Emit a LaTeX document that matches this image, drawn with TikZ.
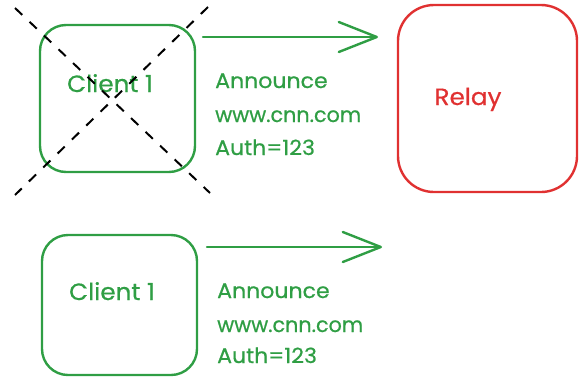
\documentclass[tikz,border=0pt]{standalone}
\usepackage{fontspec}
\setmainfont{Poppins}[FakeStretch=1.05, FakeBold=0.6]
\usetikzlibrary{arrows.meta}
\definecolor{exgreen}{HTML}{2F9E44}
\definecolor{exred}{HTML}{E03131}
\tikzset{
  box/.style={draw, line width=2.4pt, rounded corners=26pt, inner sep=0pt},
  lbl/.style={anchor=base west, inner sep=0pt, text=exgreen, font=\fontsize{21}{24}\selectfont},
  btxt/.style={anchor=base, inner sep=0pt, font=\fontsize{23.5}{26}\selectfont},
  conn/.style={draw=exgreen, line width=2.4pt, line cap=round, -{Straight Barb[length=38pt,width=30pt,round]}},
  cross/.style={draw=black, line width=2pt, dash pattern=on 10pt off 10pt}
}
\begin{document}
\begin{tikzpicture}[x=1pt,y=-1pt]
\useasboundingbox (0,0) rectangle (580,381);
% top client
\node[box, draw=exgreen, minimum width=155pt, minimum height=147pt] (c1) at (117.5,98.5) {};
\node[btxt, text=exgreen] (c1t) at (110,92) {Client 1};
% relay
\node[box, draw=exred, rounded corners=36pt, minimum width=179pt, minimum height=187pt] (relay) at (487.5,98.5) {};
\node[btxt, text=exred] (relayt) at (468,105) {Relay};
% top arrow
\coordinate (a1s) at (203,37);
\coordinate (a1e) at (378,37);
\draw[conn] (a1s) -- (a1e);
\node[lbl] (t1a) at (215,88) {Announce};
\node[lbl] (t1b) at (215,122) {\scalebox{0.94}[1]{www.cnn.com}};
\node[lbl] (t1c) at (215,155) {Auth=123};
% dashed cross
\draw[cross] (15,8) -- (210,193);
\draw[cross] (208,7) -- (15,195);
% bottom client
\node[box, draw=exgreen, minimum width=155pt, minimum height=140pt] (c2) at (119.5,305) {};
\node[btxt, text=exgreen] (c2t) at (112,300) {Client 1};
\coordinate (a2s) at (207,247);
\coordinate (a2e) at (382,247);
\draw[conn] (a2s) -- (a2e);
\node[lbl] (t2a) at (217,298) {Announce};
\node[lbl] (t2b) at (217,332) {\scalebox{0.94}[1]{www.cnn.com}};
\node[lbl] (t2c) at (217,363) {Auth=123};
\end{tikzpicture}
\end{document}
